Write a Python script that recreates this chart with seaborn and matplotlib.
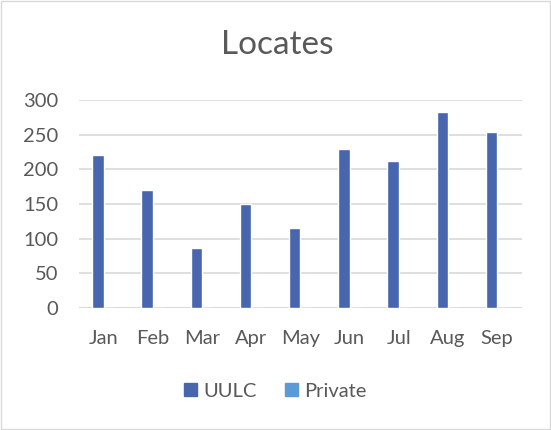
import pandas as pd
import matplotlib.pyplot as plt
import matplotlib.patches as mpatches
import seaborn as sns

# values
months = ['Jan', 'Feb', 'Mar', 'Apr', 'May', 'Jun', 'Jul', 'Aug', 'Sep']
uulc = [221, 170, 87, 150, 115, 230, 212, 282, 254]
private = [0, 0, 0, 0, 0, 0, 0, 0, 0]
series = ['UULC', 'Private']
colors = ['#4866AD', '#5B9BD5']
yticks = [0, 50, 100, 150, 200, 250, 300]

df = pd.DataFrame({
    'month': months * 2,
    'value': uulc + private,
    'series': ['UULC'] * len(months) + ['Private'] * len(months),
})

sns.set_theme(style='white')
plt.rcParams['font.family'] = ['Lato', 'DejaVu Sans']
text_col = '#595959'

fig = plt.figure(figsize=(5.51, 4.30), dpi=100)
ax = fig.add_axes([0.1434, 0.2837, 0.8036, 0.4837])

sns.barplot(data=df, x='month', y='value', hue='series', order=months,
            hue_order=series, palette=colors, width=0.46, saturation=1,
            ax=ax, legend=False)

ax.set_ylim(0, 300)
ax.set_xlim(-0.5, len(months) - 0.5)
ax.set_yticks(yticks)
ax.set_yticklabels([str(t) for t in yticks])
ax.yaxis.grid(True, color='#D9D9D9', linewidth=1.2)
ax.set_axisbelow(True)
for s in ax.spines.values():
    s.set_visible(False)
ax.axhline(0, color='#D9D9D9', linewidth=1.4, zorder=0)
ax.tick_params(axis='both', length=0, labelsize=14.5, colors=text_col)
ax.tick_params(axis='x', pad=16)
ax.tick_params(axis='y', pad=15)
ax.set_xlabel('')
ax.set_ylabel('')

fig.text(0.503, 0.895, 'Locates', ha='center', va='center',
         fontsize=24, color=text_col)

handles = [mpatches.Patch(color=c, label=s) for s, c in zip(series, colors)]
fig.legend(handles=handles, loc='center', bbox_to_anchor=(0.5, 0.09), ncol=2,
           frameon=False, fontsize=14.5, labelcolor=text_col,
           handlelength=0.65, handleheight=0.65, handletextpad=0.3,
           columnspacing=1.4)

# chart area border
fig.patches.append(mpatches.Rectangle((0.002, 0.002), 0.996, 0.996,
                                      transform=fig.transFigure, fill=False,
                                      edgecolor='#D9D9D9', linewidth=1))

fig.savefig('out.png', dpi=100)
